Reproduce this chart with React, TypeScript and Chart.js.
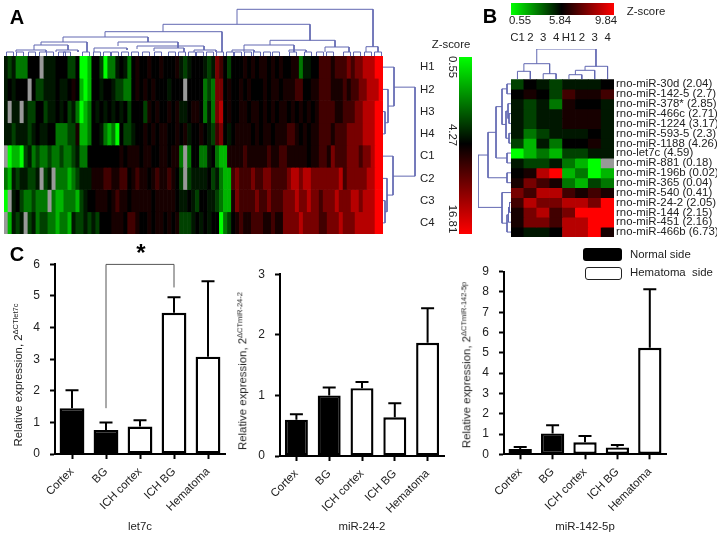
import React, { useEffect, useRef } from "react";
import { Chart, registerables } from "chart.js";
Chart.register(...registerables);

const FONT = "'Liberation Sans', Arial, sans-serif";

// ---- Bar panels ----
const tissues = ["Cortex", "BG", "ICH cortex", "ICH BG", "Hematoma"];
const let7cNormal = [1.45, 0.76, null, null, null];
const let7cHematoma = [null, null, 0.87, 4.47, 3.08];
const let7cTops = [2.02, 1.0, 1.07, 4.96, 5.47];
const mir24Normal = [0.6, 1.0, null, null, null];
const mir24Hematoma = [null, null, 1.12, 0.64, 1.87];
const mir24Tops = [0.69, 1.13, 1.22, 0.87, 2.44];
const mir142Normal = [0.26, 1.03, null, null, null];
const mir142Hematoma = [null, null, 0.59, 0.34, 5.25];
const mir142Tops = [0.36, 1.43, 0.9, 0.46, 8.13];

// ---- Heatmap A: a (bright green) .. f (black) .. k (bright red), x = missing ----
const samplesA = ["H1", "H2", "H3", "H4", "C1", "C2", "C3", "C4"];
const heatA = [
  "edecccfffx eeefffddfa abffdaccef ecfgffgffg fffgedefff edeihfdfff gfgfggfgfg ffggceeffh hhghhhihii jjjkk",
  "efefffxfdd eeefeefgfb abffeffedd ccfgfgfgff fefffxffff cdciifgffg fgfffgfggf ggghhffggh hhggghghhi ijjjk",
  "exeexeddff deefefdeca bcfefefefe fdfffdgfgf fgfgeefggf cecijfgffg gfggfgfgfg gfgfgfgfgh hhhgghhhii jjjkk",
  "eedeeedefe effcccddgb bcffecbcaf ddeffgfgfg gffgfgeffg fedhifefgg ggfgfggfgg ghhgfgfggh hhghhhiiii jjjkk",
  "xabbadecdc cdccdccdec cffffffffg fgggfggffg gfggcxcffc cefcbbgggg hggggghggh hgggggfggh hgihhhiiih iijkk",
  "cbedeeddex dexcccbcde eeggghhggh hfghggfghg ghgfdxdeee efdecbbhih hhihhiihhh hijjijjiii iiiijhiiii ijjkk",
  "axefdccdcc cxcbbcccbd effgggfghg gfgggggfgg gggfeefedf feedcbbgih hhhihhihhh iiijiijiih iiijiiijji jjjkk",
  "xbedexdecd dccbccbedd ededfffggg fhhgffgfgg fgfgdddefe feffacdfgh gghhhgghgg iiiijiiiih hiiijiiijj jjjkk",
];

// ---- Heatmap B ----
const columnsB = ["C1", "2", "3", "4", "H1", "2", "3", "4"];
const mirnasB = [
  "rno-miR-30d (2.04)", "rno-miR-142-5 (2.7)", "rno-miR-378* (2.85)", "rno-miR-466c (2.71)",
  "rno-miR-1224 (3.17)", "rno-miR-593-5 (2.3)", "rno-miR-1188 (4.26)", "rno-let7c (4.59)",
  "rno-miR-881 (0.18)", "rno-miR-196b (0.02)", "rno-miR-365 (0.04)", "rno-miR-540 (0.41)",
  "rno-miR-24-2 (2.05)", "rno-miR-144 (2.15)", "rno-miR-451 (2.16)", "rno-miR-466b (6.73)",
];
const heatB = [
  "dfedeeef", "fgfdhggh", "edecgffe", "edeeggge", "edeeggge", "ecdeeefe", "dbecffge", "abcbddee",
  "eddecbax", "fgjkbcab", "gihgcbdc", "ihjjhghg", "hjiijjik", "gijhikkk", "giihjjkk", "feefjjkg",
];

// ---- Dendrograms: [position1, height1, position2, height2, joinHeight] ----
const leafCentresA = [6, 16, 28, 39, 46, 58, 63, 82, 93, 103, 111, 121, 131, 142, 154, 168, 178, 188, 196, 206, 216, 226, 234, 244, 253, 263, 272, 289, 304, 316, 326, 343, 353, 364, 374];
const dendroTopA = [
  [233, 31.7, 369, 9.3, 46.7], [159, 24.3, 306, 15.7, 31.7], [101, 19, 218, 4, 24.3],
  [59, 14, 144, 14, 19], [37, 11, 83, 4, 14], [30, 6, 64, 6, 11], [12, 4, 42, 4, 6],
  [52, 4, 74, 4, 6], [90, 4, 123, 6, 8], [114, 10, 174, 8, 14], [133, 7, 200, 6, 10],
  [150, 5, 180, 4, 8], [190, 4, 212, 4, 6], [266, 11, 331, 9, 15.7], [240, 4, 290, 4, 11],
  [321, 4, 345, 4, 9], [362, 4, 374, 4, 9.3], [228, 4, 250, 4, 6], [285, 4, 302, 4, 6],
  ...leafCentresA.map((c) => [c - 3.5, 0, c + 3.5, 0, 4]),
];
const dendroRightA = [
  [2.5, 0, 3.5, 0, 2], [1.5, 0, 3, 2, 5], [0.5, 0, 2.25, 5, 11], [6.5, 0, 7.5, 0, 2],
  [5.5, 0, 7, 2, 4], [4.5, 0, 6.25, 4, 10], [1.4, 11, 5.4, 10, 32],
];
const dendroTopB = [
  [0.5, 0, 1.5, 0, 7.7], [2.5, 0, 3.5, 0, 5.3], [1, 7.7, 3, 5.3, 15.3], [4.5, 0, 5.5, 0, 4.3],
  [5, 4.3, 6.5, 0, 8.7], [5.75, 8.7, 7.5, 0, 12.7], [2, 15.3, 6.6, 12.7, 30],
];
const dendroLeftB = [
  [0.5, 0, 1.5, 0, 4], [3.5, 0, 4.5, 0, 2], [2.5, 0, 4, 2, 3], [5.5, 0, 6.5, 0, 2],
  [3.25, 3, 6, 2, 5], [1, 4, 4.6, 5, 9], [7.5, 0, 8.5, 0, 4], [2.8, 9, 8, 4, 15],
  [9.5, 0, 10.5, 0, 4], [5.4, 15, 10, 4, 23], [12.5, 0, 13.5, 0, 1.5], [13, 1.5, 14.5, 0, 2.5],
  [13.75, 2.5, 15.5, 0, 4], [11.5, 0, 14.6, 4, 9], [7.7, 23, 13, 9, 33],
];

const zRangeA = [0.55, 16.81];
const zRangeB = [0.55, 9.84];

// ---- Helpers ----
const NaNPt = { x: NaN, y: NaN };
const noPad = (s: any) => { s.paddingLeft = s.paddingRight = s.paddingTop = s.paddingBottom = 0; };
function heatColor(ch: string) {
  if (ch === "x") return "#999999";
  const lv = "abcdefghijk".indexOf(ch) - 5;
  const m = Math.round(Math.pow(Math.abs(lv) / 5, 1.5) * 255);
  return lv < 0 ? `rgb(0,${m},0)` : `rgb(${m},0,0)`;
}
function heatConfig(rows: string[], xLabels: string[], rowLabels: string[], extraX: any, yOpts: any) {
  const cells = rows.map((r) => Array.from(r.replace(/ /g, "")));
  return {
    type: "bar",
    data: {
      labels: xLabels,
      datasets: cells.map((c, i) => ({
        data: c.map(() => [i, i + 1]),
        backgroundColor: c.map(heatColor),
        grouped: false,
        barPercentage: 1,
        categoryPercentage: 1,
        borderWidth: 0,
      })),
    },
    options: {
      animation: false, responsive: false, events: [],
      layout: { padding: 0, autoPadding: false },
      plugins: { legend: { display: false }, tooltip: { enabled: false } },
      scales: {
        x: { type: "category", offset: true, grid: { display: false, offset: true, drawTicks: false }, border: { display: false }, ...extraX },
        y: {
          type: "linear", min: 0, max: rows.length, reverse: true, position: "right",
          grid: { display: false, drawTicks: false }, border: { display: false },
          afterBuildTicks: (s: any) => { s.ticks = rowLabels.map((_, i) => ({ value: i + 0.5 })); },
          ...yOpts,
        },
      },
    },
  };
}
function dendroConfig(links: number[][], orient: string, posMax: number, hMax: number) {
  const pts: any[] = [];
  for (const [p1, h1, p2, h2, h] of links) {
    const seq = [[p1, h1], [p1, h], [p2, h], [p2, h2]];
    for (const [p, d] of seq) pts.push(orient === "top" ? { x: p, y: d } : { x: d, y: p });
    pts.push(NaNPt);
  }
  const posScale = { type: "linear", display: false, min: 0, max: posMax };
  const hScale = { type: "linear", display: false, min: 0, max: hMax };
  return {
    type: "scatter",
    data: { datasets: [{ data: pts, showLine: true, spanGaps: false, pointRadius: 0, borderColor: "#6268b2", borderWidth: 1, clip: false }] },
    options: {
      animation: false, responsive: false, events: [],
      layout: { padding: 0, autoPadding: false },
      plugins: { legend: { display: false }, tooltip: { enabled: false } },
      scales: orient === "top"
        ? { x: posScale, y: hScale }
        : orient === "right"
          ? { x: hScale, y: { ...posScale, reverse: true } }
          : { x: { ...hScale, reverse: true }, y: { ...posScale, reverse: true } },
    },
  };
}
function colorbarConfig(range: number[], horizontal: boolean) {
  const fill = (ctx: any) => {
    const a = ctx.chart.chartArea;
    if (!a) return "#000";
    const g = horizontal
      ? ctx.chart.ctx.createLinearGradient(a.left, 0, a.right, 0)
      : ctx.chart.ctx.createLinearGradient(0, a.top, 0, a.bottom);
    g.addColorStop(0, "#00ff00");
    g.addColorStop(0.49, "#000000");
    g.addColorStop(1, "#ff0000");
    return g;
  };
  const val = { type: "linear", display: false, min: range[0], max: range[1], reverse: !horizontal };
  const cat = { type: "category", display: false };
  return {
    type: "bar",
    data: { labels: ["Z-score"], datasets: [{ data: [range], backgroundColor: fill, barPercentage: 1, categoryPercentage: 1, borderWidth: 0 }] },
    options: {
      indexAxis: horizontal ? "y" : "x",
      animation: false, responsive: false, events: [],
      layout: { padding: 0, autoPadding: false },
      plugins: { legend: { display: false }, tooltip: { enabled: false } },
      scales: horizontal ? { x: val, y: cat } : { x: cat, y: val },
    },
  };
}
function barConfig(normal: any[], hematoma: any[], tops: number[], yMax: number, title: string, topPad: number, xH: number, barPct: number, bracket?: any) {
  const plugin = {
    id: "errs",
    afterDatasetsDraw(chart: any) {
      const { ctx, scales: { x, y } } = chart;
      ctx.save();
      ctx.strokeStyle = "#000";
      ctx.lineWidth = 2;
      tops.forEach((t, i) => {
        const v = normal[i] ?? hematoma[i];
        const px = x.getPixelForValue(i);
        ctx.beginPath();
        ctx.moveTo(px, y.getPixelForValue(v));
        ctx.lineTo(px, y.getPixelForValue(t));
        ctx.moveTo(px - 6.5, y.getPixelForValue(t));
        ctx.lineTo(px + 6.5, y.getPixelForValue(t));
        ctx.stroke();
      });
      if (bracket) {
        ctx.strokeStyle = "#555";
        ctx.lineWidth = 1;
        ctx.beginPath();
        ctx.moveTo(x.getPixelForValue(bracket.from), y.getPixelForValue(bracket.fromY));
        ctx.lineTo(x.getPixelForValue(bracket.from), y.getPixelForValue(bracket.top));
        ctx.lineTo(x.getPixelForValue(bracket.to), y.getPixelForValue(bracket.top));
        ctx.lineTo(x.getPixelForValue(bracket.to), y.getPixelForValue(bracket.toY));
        ctx.stroke();
      }
      ctx.restore();
    },
  };
  const base = { grouped: false, barPercentage: barPct, categoryPercentage: 1, borderWidth: 2.4, borderColor: "#000", borderSkipped: false };
  return {
    type: "bar",
    data: {
      labels: tissues,
      datasets: [
        { label: "Normal side", data: normal, backgroundColor: "#000", ...base },
        { label: "Hematoma side", data: hematoma, backgroundColor: "#fff", ...base },
      ],
    },
    plugins: [plugin],
    options: {
      animation: false, responsive: false, events: [],
      layout: { padding: { top: topPad, right: 15, left: 0, bottom: 0 }, autoPadding: false },
      plugins: { legend: { display: false }, tooltip: { enabled: false } },
      scales: {
        x: {
          afterFit: (s: any) => { s.height = xH; noPad(s); },
          grid: { drawOnChartArea: false, offset: false, tickLength: 5, tickWidth: 2, tickColor: "#000" },
          border: { display: true, width: 2, color: "#000" },
          ticks: { color: "#222", font: { family: FONT, size: 11.4 }, minRotation: 45, maxRotation: 45, padding: 6, autoSkip: false },
          title: { display: true, text: title, color: "#222", font: { family: FONT, size: 11.4 }, padding: { top: 0, bottom: 0 } },
        },
        y: {
          min: 0, max: yMax,
          afterFit: (s: any) => { s.width = 45; noPad(s); },
          grid: { drawOnChartArea: false, tickLength: 5, tickWidth: 2, tickColor: "#000" },
          border: { display: true, width: 2, color: "#000" },
          ticks: { color: "#222", font: { family: FONT, size: 12 }, stepSize: 1, padding: 10 },
        },
      },
    },
  };
}

function Box({ config, left, top, width, height, blur }: any) {
  const ref = useRef<HTMLCanvasElement>(null);
  useEffect(() => {
    const c = new Chart(ref.current as any, config);
    return () => c.destroy();
  }, []);
  return <canvas ref={ref} width={width} height={height} style={{ position: "absolute", left, top, width, height, display: "block", filter: blur ? `blur(${blur}px)` : undefined }} />;
}
function Label({ x, y, rot = 0, size = 11.4, bold = false, color = "#222", children }: any) {
  return (
    <div style={{ position: "absolute", left: x, top: y, transform: `translate(-50%,-50%) rotate(${rot}deg)`, whiteSpace: "nowrap", font: `${bold ? "bold " : ""}${size}px ${FONT}`, color, lineHeight: 1 }}>
      {children}
    </div>
  );
}
function YTitle({ x, y, sub }: any) {
  return (
    <Label x={x} y={y} rot={-90}>
      Relative expression, 2<span style={{ fontSize: 7.5, position: "relative", top: -4 }}>{sub}</span>
    </Label>
  );
}

const configs = {
  heatA: heatConfig(heatA, Array.from(heatA[0].replace(/ /g, "")).map((_, i) => String(i)), samplesA, { display: false }, {
    afterFit: (s: any) => { s.width = 60; noPad(s); },
    ticks: { padding: 37, autoSkip: false, color: "#222", font: { family: FONT, size: 11.4 }, callback: (v: number) => samplesA[Math.floor(v)] },
  }),
  heatB: heatConfig(heatB, columnsB, mirnasB, {
    position: "top",
    afterFit: (s: any) => { s.height = 49.3; noPad(s); },
    ticks: { padding: 35, autoSkip: false, maxRotation: 0, color: "#222", font: { family: FONT, size: 11.4 } },
  }, {
    afterFit: (s: any) => { s.width = 103; noPad(s); },
    ticks: { padding: 2, autoSkip: false, color: "#222", font: { family: FONT, size: 11.4 }, callback: (v: number) => mirnasB[Math.floor(v)] },
  }),
};

export default function App() {
  return (
    <div style={{ position: "absolute", left: 0, top: 0, width: 720, height: 534, background: "#fff", overflow: "hidden", filter: "blur(0.35px)" }}>
      <Box config={dendroConfig(dendroTopA, "top", 379, 48)} left={4} top={8} width={379} height={48} />
      <Box config={configs.heatA} left={4} top={56} width={439} height={178} blur={0.7} />
      <Box config={dendroConfig(dendroRightA, "right", 8, 33)} left={383} top={56} width={33} height={178} />
      <Box config={colorbarConfig(zRangeA, false)} left={459} top={57} width={13} height={177} />
      <Label x={451} y={45}>Z-score</Label>
      <Label x={452} y={67} rot={90}>{zRangeA[0].toFixed(2)}</Label>
      <Label x={452} y={135} rot={90}>4.27</Label>
      <Label x={452} y={219} rot={90}>{zRangeA[1].toFixed(2)}</Label>

      <Box config={colorbarConfig(zRangeB, true)} left={511} top={3} width={103} height={12} />
      <Label x={520} y={21}>{zRangeB[0].toFixed(2)}</Label>
      <Label x={560} y={21}>5.84</Label>
      <Label x={606} y={21}>{zRangeB[1].toFixed(2)}</Label>
      <Label x={646} y={12}>Z-score</Label>
      <Box config={configs.heatB} left={511} top={30} width={206} height={207} blur={0.4} />
      <Box config={dendroConfig(dendroTopB, "top", 8, 30)} left={511} top={49} width={103} height={30} />
      <Box config={dendroConfig(dendroLeftB, "left", 16, 33)} left={478} top={79} width={33} height={158} />

      <Box config={barConfig(let7cNormal, let7cHematoma, let7cTops, 6, "let7c", 9.4, 80, 0.73, { from: 1, to: 3, fromY: 1.45, toY: 5.27, top: 6 })} left={10} top={255} width={230} height={279} />
      <Box config={barConfig(mir24Normal, mir24Hematoma, mir24Tops, 3, "miR-24-2", 9.3, 78, 0.7)} left={235} top={265} width={224} height={269} />
      <Box config={barConfig(mir142Normal, mir142Hematoma, mir142Tops, 9, "miR-142-5p", 9.7, 79.7, 0.72)} left={459} top={262} width={222} height={272} />
      <YTitle x={19} y={375} sub={"ΔCTlet7c"} />
      <YTitle x={243} y={371} sub={"ΔCTmiR-24-2"} />
      <YTitle x={467} y={365} sub={"ΔCTmiR-142-5p"} />

      <Label x={17} y={17} size={20} bold color="#000">A</Label>
      <Label x={490} y={16} size={20} bold color="#000">B</Label>
      <Label x={17} y={254} size={20} bold color="#000">C</Label>
      <Label x={141} y={253} size={24} bold color="#000">*</Label>

      <div style={{ position: "absolute", left: 583, top: 248, width: 39, height: 13, background: "#000", borderRadius: 3 }} />
      <div style={{ position: "absolute", left: 585, top: 267, width: 35, height: 11, background: "#fff", border: "1.5px solid #222", borderRadius: 3 }} />
      <div style={{ position: "absolute", left: 630, top: 248, font: `11.4px ${FONT}`, color: "#222" }}>Normal side</div>
      <div style={{ position: "absolute", left: 630, top: 266, font: `11.4px ${FONT}`, color: "#222", whiteSpace: "pre" }}>Hematoma  side</div>
    </div>
  );
}
